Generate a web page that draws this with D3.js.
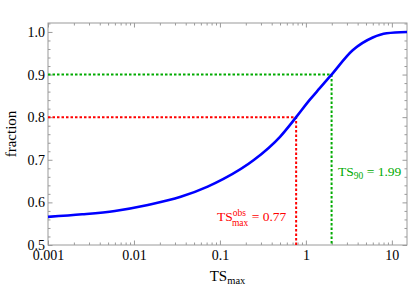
<!DOCTYPE html>
<html>
<head>
<meta charset="utf-8">
<title>fraction vs TSmax</title>
<script src="https://d3js.org/d3.v7.min.js"></script>
<style>
  body { margin: 0; background: #fff; }
  svg text { font-family: "Liberation Serif", "DejaVu Serif", serif; }
</style>
</head>
<body>
<div id="chart"></div>
<script>
// curve values
var tsValues   = [0.001, 0.0025, 0.006, 0.0145, 0.035, 0.072, 0.11, 0.25, 0.5, 0.77, 1.1, 1.45, 1.99, 3.5, 6, 8.7, 15];
var fracValues = [0.566, 0.572, 0.580, 0.594, 0.613, 0.637, 0.655, 0.700, 0.754, 0.800, 0.840, 0.868, 0.900, 0.957, 0.987, 0.997, 1.0];
var xTickValues = [0.001, 0.01, 0.1, 1, 10];
var xTickLabels = ["0.001", "0.01", "0.1", "1", "10"];
var yTickValues = [0.5, 0.6, 0.7, 0.8, 0.9, 1.0];
var yTickLabels = ["0.5", "0.6", "0.7", "0.8", "0.9", "1.0"];
var tsObs = 0.77, fracObs = 0.8;
var ts90 = 1.99, frac90 = 0.9;

var width = 413, height = 290;
var margin = {top: 23, right: 6, bottom: 45, left: 48};
var w = width - margin.left - margin.right,
    h = height - margin.top - margin.bottom;

var svg = d3.select("#chart").append("svg")
    .attr("width", width)
    .attr("height", height);
var g = svg.append("g")
    .attr("transform", "translate(" + margin.left + "," + margin.top + ")");

var x = d3.scaleLog().domain([0.001, 15]).range([0, w]);
var y = d3.scaleLinear().domain([0.5, 1.021]).range([h, 0]);

// minor ticks
var minorX = [];
[0.001, 0.01, 0.1, 1, 10].forEach(function(d) {
  for (var k = 2; k <= 9; k++) { if (d * k <= 15) minorX.push(d * k); }
});
var minorY = d3.range(0.52, 1.021, 0.02).filter(function(v) {
  return Math.abs(v * 10 - Math.round(v * 10)) > 1e-6;
});

var frameColor = "#9a9a9a";
function styleAxis(sel) {
  sel.select(".domain").remove();
  sel.selectAll(".tick line").attr("stroke", frameColor);
  sel.selectAll("text").style("font-size", "14px").attr("fill", "#000");
}

// bottom
g.append("g").attr("transform", "translate(0," + h + ")")
  .call(d3.axisBottom(x).tickValues(minorX).tickSize(-2.5).tickFormat(""))
  .call(styleAxis);
g.append("g").attr("transform", "translate(0," + h + ")")
  .call(d3.axisBottom(x).tickValues(xTickValues).tickSize(-4.5).tickPadding(5)
    .tickFormat(function(d, i) { return xTickLabels[i]; }))
  .call(styleAxis);
// top
g.append("g")
  .call(d3.axisTop(x).tickValues(minorX).tickSize(-2.5).tickFormat(""))
  .call(styleAxis);
g.append("g")
  .call(d3.axisTop(x).tickValues(xTickValues).tickSize(-4.5).tickFormat(""))
  .call(styleAxis);
// left
g.append("g")
  .call(d3.axisLeft(y).tickValues(minorY).tickSize(-2.5).tickFormat(""))
  .call(styleAxis);
g.append("g")
  .call(d3.axisLeft(y).tickValues(yTickValues).tickSize(-4.5).tickPadding(3)
    .tickFormat(function(d, i) { return yTickLabels[i]; }))
  .call(styleAxis);
// right
g.append("g").attr("transform", "translate(" + w + ",0)")
  .call(d3.axisRight(y).tickValues(minorY).tickSize(-2.5).tickFormat(""))
  .call(styleAxis);
g.append("g").attr("transform", "translate(" + w + ",0)")
  .call(d3.axisRight(y).tickValues(yTickValues).tickSize(-4.5).tickFormat(""))
  .call(styleAxis);

// frame
g.append("rect")
  .attr("width", w).attr("height", h)
  .attr("fill", "none").attr("stroke", frameColor).attr("stroke-width", 1);

// dotted guide lines
var red = "#ff0000", green = "#00aa00";
function guide(xv, yv, color) {
  g.append("path")
    .attr("d", "M" + x(0.001) + "," + y(yv) + "H" + x(xv) + "V" + y(0.5))
    .attr("fill", "none")
    .attr("stroke", color)
    .attr("stroke-width", 2)
    .attr("stroke-dasharray", "2.5,2");
}
guide(tsObs, fracObs, red);
guide(ts90, frac90, green);

// curve
var pts = tsValues.map(function(d, i) { return [d, fracValues[i]]; });
var line = d3.line()
  .x(function(d) { return x(d[0]); })
  .y(function(d) { return y(d[1]); })
  .curve(d3.curveMonotoneX);
g.append("path")
  .datum(pts)
  .attr("d", line)
  .attr("fill", "none")
  .attr("stroke", "#0000ff")
  .attr("stroke-width", 2.6);

// annotations
var t1 = g.append("text")
  .attr("x", 217 - margin.left).attr("y", 221 - margin.top)
  .attr("fill", red).style("font-size", "13.5px");
t1.append("tspan").text("TS");
t1.append("tspan").attr("dy", -5.5).style("font-size", "9.5px").text("obs");
t1.append("tspan").attr("dx", -14).attr("dy", 10).style("font-size", "9.5px").text("max");
t1.append("tspan").attr("dy", -4.5).text(" = 0.77");

var t2 = g.append("text")
  .attr("x", 338 - margin.left).attr("y", 176 - margin.top)
  .attr("fill", green).style("font-size", "13.5px");
t2.append("tspan").text("TS");
t2.append("tspan").attr("dy", 3).style("font-size", "9.5px").text("90");
t2.append("tspan").attr("dy", -3).text(" = 1.99");

// axis titles
var xt = g.append("text")
  .attr("x", w / 2).attr("y", 281 - margin.top)
  .attr("text-anchor", "middle").style("font-size", "15px");
xt.append("tspan").text("TS");
xt.append("tspan").attr("dy", 3).style("font-size", "10.5px").text("max");

g.append("text")
  .attr("transform", "translate(" + (16 - margin.left) + "," + (h / 2) + ") rotate(-90)")
  .attr("text-anchor", "middle").style("font-size", "15px")
  .text("fraction");
</script>
</body>
</html>
